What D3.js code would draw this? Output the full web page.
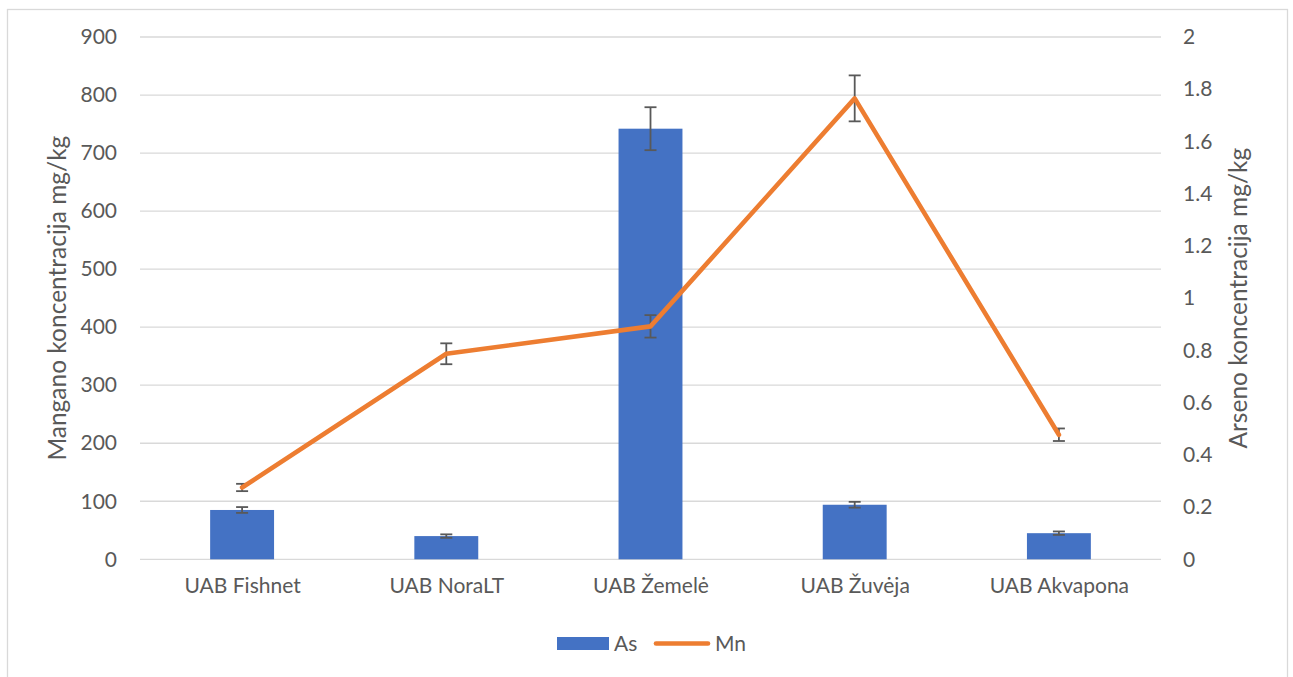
<!DOCTYPE html>
<html>
<head>
<meta charset="utf-8">
<script src="https://cdn.jsdelivr.net/npm/d3@7"></script>
<style>
  body { margin: 0; background: #fff; }
  text { font-family: Lato, "Open Sans", sans-serif; fill: #595959; }
</style>
</head>
<body>
<svg id="chart" width="1293" height="677"></svg>
<script>
// data
const categories = ["UAB Fishnet", "UAB NoraLT", "UAB Žemelė", "UAB Žuvėja", "UAB Akvapona"];
const asValues = [85, 40, 742, 94, 45];
const asErrors = [5, 3, 37, 5, 3];
const mnValues = [0.275, 0.787, 0.892, 1.765, 0.477];
const mnErrors = [0.014, 0.04, 0.043, 0.088, 0.024];
const leftTicks = [0, 100, 200, 300, 400, 500, 600, 700, 800, 900];
const rightTicks = [0, 0.2, 0.4, 0.6, 0.8, 1, 1.2, 1.4, 1.6, 1.8, 2];

const svg = d3.select("#chart");
const plotLeft = 140, plotRight = 1161, plotTop = 37, plotBottom = 559.3;
const fontSize = 21;
const titleSize = 24.5;
const gray = "#595959";

// chart frame
svg.append("rect")
    .attr("x", 7.5).attr("y", 9.5)
    .attr("width", 1280).attr("height", 700)
    .attr("fill", "none").attr("stroke", "#d9d9d9").attr("stroke-width", 1.3);

const escalaX = d3.scalePoint()
    .domain(categories)
    .range([plotLeft, plotRight])
    .padding(0.5);
const paso = escalaX.step();
const anchoBarra = paso * 0.313;

const yIzq = d3.scaleLinear().domain([0, 900]).range([plotBottom, plotTop]);
const yDer = d3.scaleLinear().domain([0, 2]).range([plotBottom, plotTop]);

// gridlines
svg.append("g")
    .selectAll("line")
    .data(leftTicks)
    .join("line")
    .attr("x1", plotLeft).attr("x2", plotRight)
    .attr("y1", d => yIzq(d)).attr("y2", d => yIzq(d))
    .attr("stroke", "#d9d9d9").attr("stroke-width", 1.3);

// left axis labels
const ejeIzq = d3.axisLeft(yIzq).tickValues(leftTicks).tickSize(0).tickPadding(0);
svg.append("g")
    .attr("transform", `translate(117,0)`)
    .call(ejeIzq)
    .call(g => g.select(".domain").remove())
    .selectAll("text")
    .style("font-size", fontSize + "px").attr("fill", gray);

// right axis labels
const ejeDer = d3.axisRight(yDer).tickValues(rightTicks).tickSize(0).tickPadding(0)
    .tickFormat(d => String(+d.toFixed(1)));
svg.append("g")
    .attr("transform", `translate(1183,0)`)
    .call(ejeDer)
    .call(g => g.select(".domain").remove())
    .selectAll("text")
    .style("font-size", fontSize + "px").attr("fill", gray);

// category labels
const ejeX = d3.axisBottom(escalaX).tickSize(0).tickPadding(0);
svg.append("g")
    .attr("transform", `translate(0,${plotBottom + 19})`)
    .call(ejeX)
    .call(g => g.select(".domain").remove())
    .selectAll("text")
    .style("font-size", fontSize + "px").attr("fill", gray);

// axis titles
svg.append("text")
    .attr("transform", `translate(66,${(plotTop + plotBottom) / 2}) rotate(-90)`)
    .attr("text-anchor", "middle")
    .style("font-size", titleSize + "px")
    .text("Mangano koncentracija mg/kg");
svg.append("text")
    .attr("transform", `translate(1247,${(plotTop + plotBottom) / 2}) rotate(-90)`)
    .attr("text-anchor", "middle")
    .style("font-size", titleSize + "px")
    .text("Arseno koncentracija mg/kg");

const datos = categories.map((c, i) => ({
    cat: c, as: asValues[i], asErr: asErrors[i], mn: mnValues[i], mnErr: mnErrors[i]
}));

// bars (As)
svg.append("g")
    .selectAll("rect")
    .data(datos)
    .join("rect")
    .attr("x", d => escalaX(d.cat) - anchoBarra / 2)
    .attr("width", anchoBarra)
    .attr("y", d => yIzq(d.as))
    .attr("height", d => yIzq(0) - yIzq(d.as))
    .attr("fill", "#4472c4");

function errorBars(g, xf, yLo, yHi) {
    const eb = g.selectAll("g").data(datos).join("g")
        .attr("stroke", gray).attr("stroke-width", 1.8);
    eb.append("line")
        .attr("x1", xf).attr("x2", xf)
        .attr("y1", yLo).attr("y2", yHi);
    eb.append("line")
        .attr("x1", d => xf(d) - 6).attr("x2", d => xf(d) + 6)
        .attr("y1", yLo).attr("y2", yLo);
    eb.append("line")
        .attr("x1", d => xf(d) - 6).attr("x2", d => xf(d) + 6)
        .attr("y1", yHi).attr("y2", yHi);
}

svg.append("g").call(errorBars,
    d => escalaX(d.cat), d => yIzq(d.as - d.asErr), d => yIzq(d.as + d.asErr));
svg.append("g").call(errorBars,
    d => escalaX(d.cat), d => yDer(d.mn - d.mnErr), d => yDer(d.mn + d.mnErr));

// line (Mn)
const linea = d3.line()
    .x(d => escalaX(d.cat))
    .y(d => yDer(d.mn));
svg.append("path")
    .datum(datos)
    .attr("d", linea)
    .attr("fill", "none")
    .attr("stroke", "#ed7d31")
    .attr("stroke-width", 4.6)
    .attr("stroke-linejoin", "round")
    .attr("stroke-linecap", "round");

// legend
const leyenda = svg.append("g");
leyenda.append("rect")
    .attr("x", 557).attr("y", 637)
    .attr("width", 52).attr("height", 13)
    .attr("fill", "#4472c4");
leyenda.append("text")
    .attr("x", 614).attr("y", 651)
    .style("font-size", fontSize + "px")
    .text("As");
leyenda.append("line")
    .attr("x1", 656).attr("x2", 708)
    .attr("y1", 643.5).attr("y2", 643.5)
    .attr("stroke", "#ed7d31").attr("stroke-width", 4.6)
    .attr("stroke-linecap", "round");
leyenda.append("text")
    .attr("x", 715).attr("y", 651)
    .style("font-size", fontSize + "px")
    .text("Mn");
</script>
</body>
</html>
